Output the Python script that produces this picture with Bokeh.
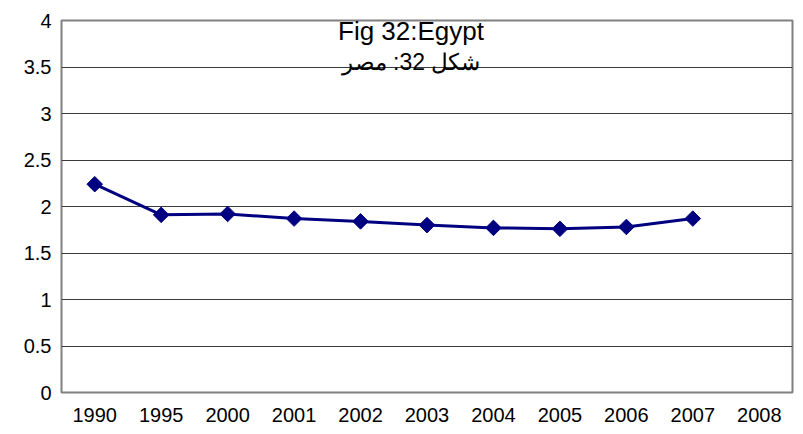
import numpy as np
from bokeh.plotting import figure
from bokeh.models import FactorRange, Range1d, ColumnDataSource, FixedTicker
from bokeh.core.properties import value
from bokeh.embed import file_html
from bokeh.resources import INLINE

years = ["1990", "1995", "2000", "2001", "2002", "2003", "2004", "2005", "2006", "2007", "2008"]
data_years = ["1990", "1995", "2000", "2001", "2002", "2003", "2004", "2005", "2006", "2007"]
values = [2.24, 1.91, 1.92, 1.87, 1.84, 1.80, 1.77, 1.76, 1.78, 1.87]
y_ticks = [0, 0.5, 1, 1.5, 2, 2.5, 3, 3.5, 4]
title_en = "Fig 32:Egypt"
title_ar = "شكل 32: مصر"

p = figure(width=803, height=434, x_range=FactorRange(*years, range_padding=0),
           y_range=Range1d(0, 4), output_backend="svg", toolbar_location=None,
           min_border_left=61, min_border_right=11, min_border_top=20, min_border_bottom=42)

p.outline_line_color = "#808080"
p.outline_line_width = 2
p.background_fill_color = "white"
p.border_fill_color = "white"

p.xgrid.grid_line_color = None
p.ygrid.grid_line_color = "#3a3a3a"
p.ygrid.grid_line_width = 1
p.yaxis.ticker = FixedTicker(ticks=y_ticks)

for ax in (p.xaxis, p.yaxis):
    ax.axis_line_color = None
    ax.major_tick_line_color = None
    ax.minor_tick_line_color = None
    ax.major_label_text_font = "Liberation Sans"
    ax.major_label_text_font_size = "20px"
    ax.major_label_text_color = "black"
p.yaxis.major_label_standoff = 4
p.xaxis.major_label_standoff = 9

src = ColumnDataSource(dict(x=data_years, y=values))
p.line("x", "y", source=src, line_color="#000080", line_width=3)
p.scatter("x", "y", source=src, marker="square", size=11, angle=np.pi / 4,
          fill_color="#000080", line_color="#000080")

tsrc = ColumnDataSource(dict(x=["2003", "2003"], y=[4, 4], t=[title_en, title_ar],
                             off=[10, 41], fs=["26px", "23px"]))
p.text("x", "y", text="t", source=tsrc, x_offset=-16, y_offset="off",
       text_font=value("Liberation Sans"), text_font_size="fs", text_color="black",
       text_align="center", text_baseline="alphabetic")

open("out.html", "w").write(file_html(p, INLINE))
